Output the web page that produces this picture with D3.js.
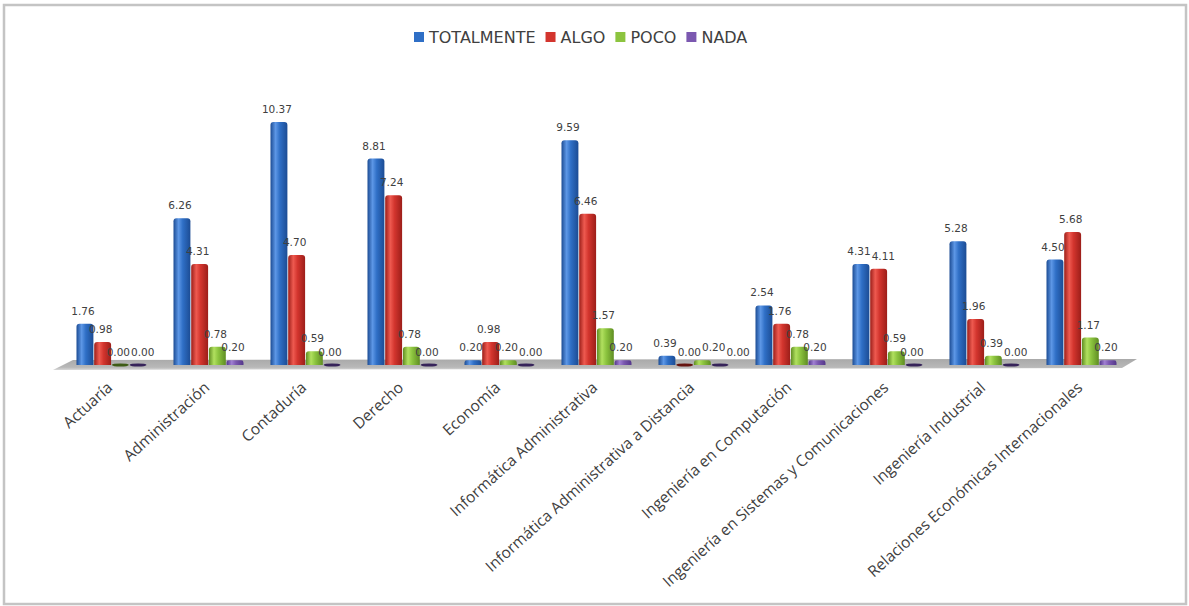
<!DOCTYPE html>
<html>
<head>
<meta charset="utf-8">
<script src="https://cdn.jsdelivr.net/npm/d3@7"></script>
<style>
  html, body { margin: 0; padding: 0; background: #fff; }
  svg { display: block; }
</style>
</head>
<body>
<svg id="chart" width="1189" height="606"></svg>
<script>
// ---- data ----
const categories = [
  "Actuaría", "Administración", "Contaduría", "Derecho", "Economía",
  "Informática Administrativa", "Informática Administrativa a Distancia",
  "Ingeniería en Computación", "Ingeniería en Sistemas y Comunicaciones",
  "Ingeniería Industrial", "Relaciones Económicas Internacionales"
];
const seriesNames = ["TOTALMENTE", "ALGO", "POCO", "NADA"];
const totalmente = [1.76, 6.26, 10.37, 8.81, 0.20, 9.59, 0.39, 2.54, 4.31, 5.28, 4.50];
const algo       = [0.98, 4.31, 4.70, 7.24, 0.98, 6.46, 0.00, 1.76, 4.11, 1.96, 5.68];
const poco       = [0.00, 0.78, 0.59, 0.78, 0.20, 1.57, 0.20, 0.78, 0.59, 0.39, 1.17];
const nada       = [0.00, 0.20, 0.00, 0.00, 0.00, 0.20, 0.00, 0.20, 0.00, 0.00, 0.20];
const seriesValues = [totalmente, algo, poco, nada];

const colors = {
  base:  ["#2f6fc6", "#d3352e", "#8cc43f", "#7b58b0"],
  light: ["#5d97e6", "#ee5a50", "#b1e05f", "#a07fd2"],
  dark:  ["#1c4c94", "#9c1e19", "#5f8d22", "#54378a"]
};

const svg = d3.select("#chart");
const W = 1189, H = 606;

// frame
svg.append("rect").attr("x", 0).attr("y", 0).attr("width", W).attr("height", H).attr("fill", "#fff");
svg.append("rect").attr("x", 4).attr("y", 5).attr("width", 1182).attr("height", 599)
  .attr("fill", "#fff").attr("stroke", "#c4c4c4").attr("stroke-width", 2.5);

// scales
const x0 = d3.scaleBand().domain(categories).range([63, 1130]).paddingInner(0.27).paddingOuter(0.135);
const x1 = d3.scaleBand().domain(seriesNames).range([0, x0.bandwidth()]).padding(0);
const y = d3.scaleLinear().domain([0, 10]).range([365, 130.7]);

// gradients
const defs = svg.append("defs");
seriesNames.forEach((s, i) => {
  const g = defs.append("linearGradient").attr("id", "g" + i)
    .attr("x1", "0%").attr("x2", "100%").attr("y1", "0%").attr("y2", "0%");
  g.append("stop").attr("offset", "0%").attr("stop-color", colors.dark[i]);
  g.append("stop").attr("offset", "30%").attr("stop-color", colors.light[i]);
  g.append("stop").attr("offset", "55%").attr("stop-color", colors.base[i]);
  g.append("stop").attr("offset", "100%").attr("stop-color", colors.dark[i]);
});
const fg = defs.append("linearGradient").attr("id", "floorG")
  .attr("x1", "0%").attr("x2", "0%").attr("y1", "0%").attr("y2", "100%");
fg.append("stop").attr("offset", "0%").attr("stop-color", "#a9a9a9");
fg.append("stop").attr("offset", "75%").attr("stop-color", "#b8b8b8");
fg.append("stop").attr("offset", "100%").attr("stop-color", "#d8d8d8");

// floor
const r0 = x0.range()[0], r1 = x0.range()[1], base = y(0);
const floorPts = [
  [r0 + 10, base - 5], [r1 + 7, base - 6], [r1 - 8, base + 3], [r0 - 10, base + 5]
];
svg.append("polygon").attr("points", floorPts.map(p => p.join(",")).join(" "))
  .attr("fill", "url(#floorG)");

// bars
const groups = svg.append("g").selectAll("g").data(categories).join("g")
  .attr("transform", d => `translate(${x0(d)},0)`);

const barData = (c, ci) => seriesNames.map((s, si) => ({ s, si, v: seriesValues[si][ci], c }));

groups.each(function(c, ci) {
  const g = d3.select(this);
  const data = barData(c, ci);
  const bw = x1.bandwidth() - 0.8;
  data.forEach(d => {
    const bx = x1(d.s) + 0.4;
    if (d.v > 0) {
      const top = y(d.v);
      const h = base - top;
      const r = Math.min(3, h / 2);
      g.append("path")
        .attr("d", `M${bx},${base} L${bx},${top + r} Q${bx},${top} ${bx + r},${top} L${bx + bw - r},${top} Q${bx + bw},${top} ${bx + bw},${top + r} L${bx + bw},${base} Z`)
        .attr("fill", `url(#g${d.si})`);
    } else {
      g.append("ellipse")
        .attr("cx", bx + bw / 2).attr("cy", base)
        .attr("rx", bw / 2).attr("ry", 1.6)
        .attr("fill", d3.color(colors.dark[d.si]).darker(1.2));
    }
  });
  // labels, nudged right when they collide with an earlier label of the group
  const placed = [];
  data.forEach(d => {
    const t = g.append("text")
      .attr("text-anchor", "middle")
      .attr("font-family", "DejaVu Sans, sans-serif")
      .attr("font-size", 10.5)
      .attr("fill", "#404040")
      .text(d.v.toFixed(2));
    const w = t.node().getComputedTextLength();
    let cx = x1(d.s) + x1.bandwidth() / 2 - 2;
    const by = y(d.v) - 9;
    placed.forEach(p => {
      if (Math.abs(p.by - by) < 10 && cx - w / 2 < p.cx + p.w / 2 + 1 && cx + w / 2 > p.cx - p.w / 2 - 1) {
        cx = p.cx + p.w / 2 + 1 + w / 2;
      }
    });
    placed.push({ cx, by, w });
    t.attr("x", cx).attr("y", by);
  });
});

// category labels
svg.append("g").selectAll("text").data(categories).join("text")
  .attr("transform", d => `translate(${x0(d) + x0.bandwidth() / 2 + 2},389) rotate(-42)`)
  .attr("text-anchor", "end")
  .attr("font-family", "Open Sans, sans-serif")
  .attr("font-size", 15.5)
  .attr("fill", "#404040")
  .text(d => d);

// legend
const legend = svg.append("g");
let lx = 414;
seriesNames.forEach((s, i) => {
  legend.append("rect").attr("x", lx).attr("y", 32).attr("width", 10).attr("height", 10)
    .attr("fill", colors.base[i]);
  const t = legend.append("text").attr("x", lx + 15).attr("y", 43)
    .attr("font-family", "DejaVu Sans, sans-serif").attr("font-size", 16)
    .attr("fill", "#404040").text(s);
  lx += 15 + t.node().getComputedTextLength() + 10;
});
</script>
</body>
</html>
